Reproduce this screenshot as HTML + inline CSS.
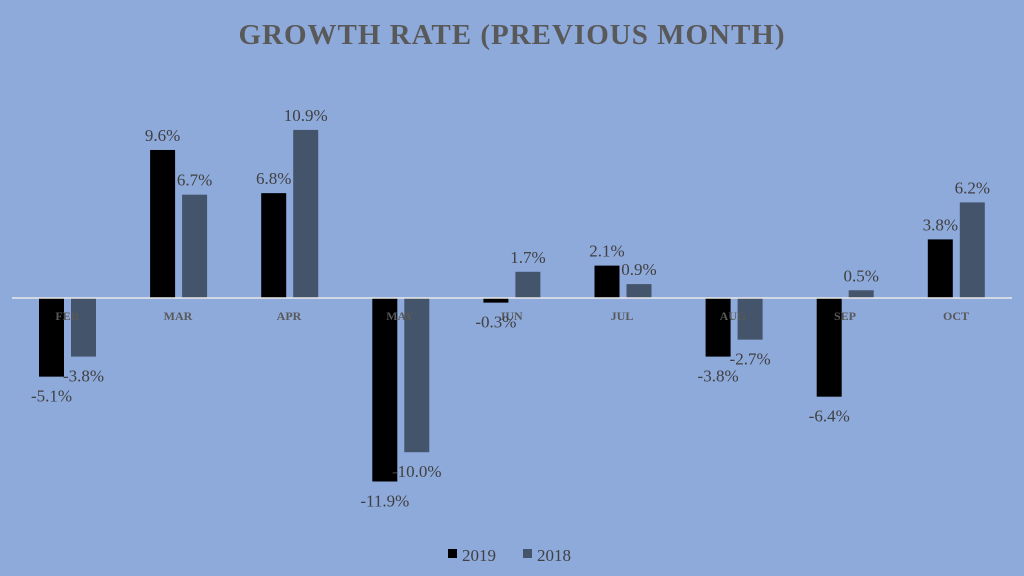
<!DOCTYPE html>
<html><head><meta charset="utf-8"><style>
body{margin:0;width:1024px;height:576px;background:#8eaadb;overflow:hidden}
svg{display:block}
text{font-family:"Liberation Serif","DejaVu Serif",serif}
</style></head><body>
<svg width="1024" height="576" xmlns="http://www.w3.org/2000/svg">
<rect width="1024" height="576" fill="#8eaadb"/>
<text x="512" y="44" text-anchor="middle" font-size="29" font-weight="bold" fill="#595959" letter-spacing="1">GROWTH RATE (PREVIOUS MONTH)</text>
<g id="bars"></g>
<line x1="12" y1="298" x2="1012" y2="298" stroke="#e8e8e8" stroke-width="1.5"/>
<g font-size="12" font-weight="bold" fill="#595959" text-anchor="middle">
<text x="67" y="320">FEB</text><text x="178" y="320">MAR</text><text x="289" y="320">APR</text><text x="400" y="320">MAY</text><text x="511" y="320">JUN</text><text x="622" y="320">JUL</text><text x="733" y="320">AUG</text><text x="845" y="320">SEP</text><text x="956" y="320">OCT</text>
</g>
<g id="lbl" font-size="17" fill="#404040" text-anchor="middle"></g>
<rect x="448" y="549" width="9" height="9" fill="#000"/>
<text x="462" y="561" font-size="17" fill="#404040">2019</text>
<rect x="523" y="549" width="9" height="9" fill="#44546a"/>
<text x="537" y="561" font-size="17" fill="#404040">2018</text>
</svg>
<script>
var a=[-5.1,9.6,6.8,-11.9,-0.3,2.1,-3.8,-6.4,3.8],b=[-3.8,6.7,10.9,-10.0,1.7,0.9,-2.7,0.5,6.2];
var s=15.42,z=298,g=document.getElementById('bars'),l=document.getElementById('lbl'),ns="http://www.w3.org/2000/svg";
function bar(x,v,c){var r=document.createElementNS(ns,'rect');var h=Math.abs(v)*s;r.setAttribute('x',x);r.setAttribute('width',25);r.setAttribute('y',v>=0?z-h:z);r.setAttribute('height',h);r.setAttribute('fill',c);g.appendChild(r);
var t=document.createElementNS(ns,'text');t.setAttribute('x',x+12.5);t.setAttribute('y',v>=0?z-h-9:z+h+25);t.textContent=v.toFixed(1)+'%';l.appendChild(t);}
for(var i=0;i<9;i++){var c=67+i*111.1;bar(c-28,a[i],'#000');bar(c+4,b[i],'#44546a');}
</script>
</body></html>
